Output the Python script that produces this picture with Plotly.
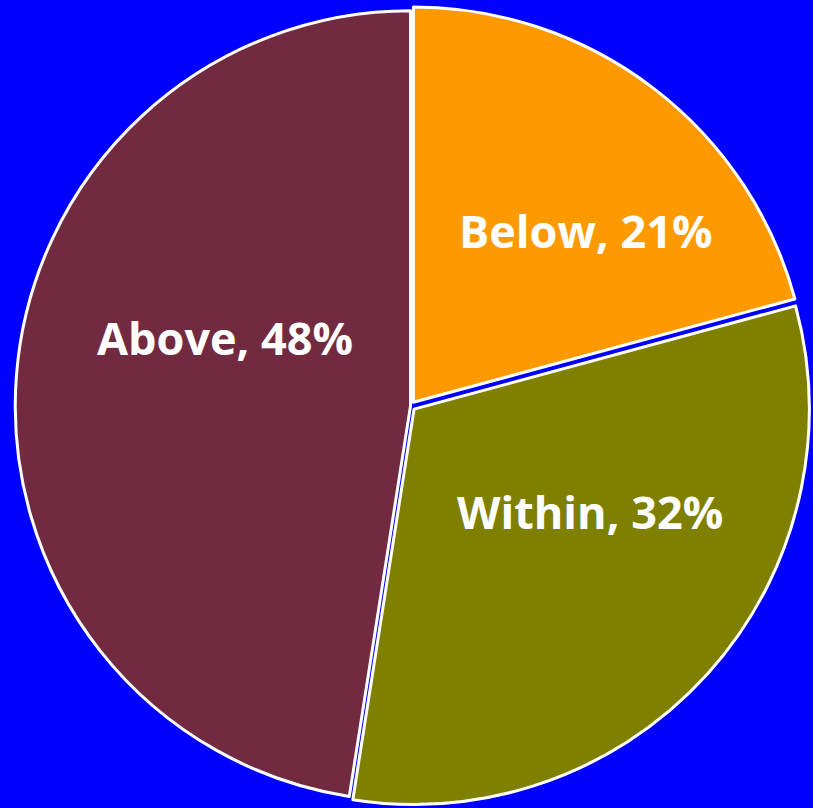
import plotly.graph_objects as go

labels = ["Below", "Within", "Above"]
values = [21, 32, 48]
colors = ["#FF9900", "#808000", "#722A40"]
pulls = [0.012, 0.012, 0]

W, H = 813, 808
# label anchor points (pixel centres of the label text in the figure)
label_px = [(584, 227), (589, 511), (218, 335)]

total = sum(values)
fig = go.Figure(go.Pie(
    labels=labels,
    values=values,
    sort=False,
    direction="clockwise",
    rotation=0,
    pull=pulls,
    marker=dict(colors=colors, line=dict(color="white", width=3)),
    textinfo="none",
    hoverinfo="skip",
    showlegend=False,
))
for lab, val, (px, py) in zip(labels, values, label_px):
    fig.add_annotation(
        x=px / W, y=1 - py / H, xref="paper", yref="paper",
        text=f"{lab}, {round(100 * val / total)}%",
        showarrow=False, xanchor="center", yanchor="middle",
        font=dict(family="Open Sans", size=45, color="white", weight="bold"),
    )
fig.update_layout(
    width=W, height=H,
    paper_bgcolor="#0000FF",
    plot_bgcolor="#0000FF",
    margin=dict(l=10, r=2, t=6, b=2),
)
fig.write_html(
    "out.html",
    config={"displayModeBar": False},
    post_script="document.body.style.margin='0';document.body.style.background='#0000FF';",
)
